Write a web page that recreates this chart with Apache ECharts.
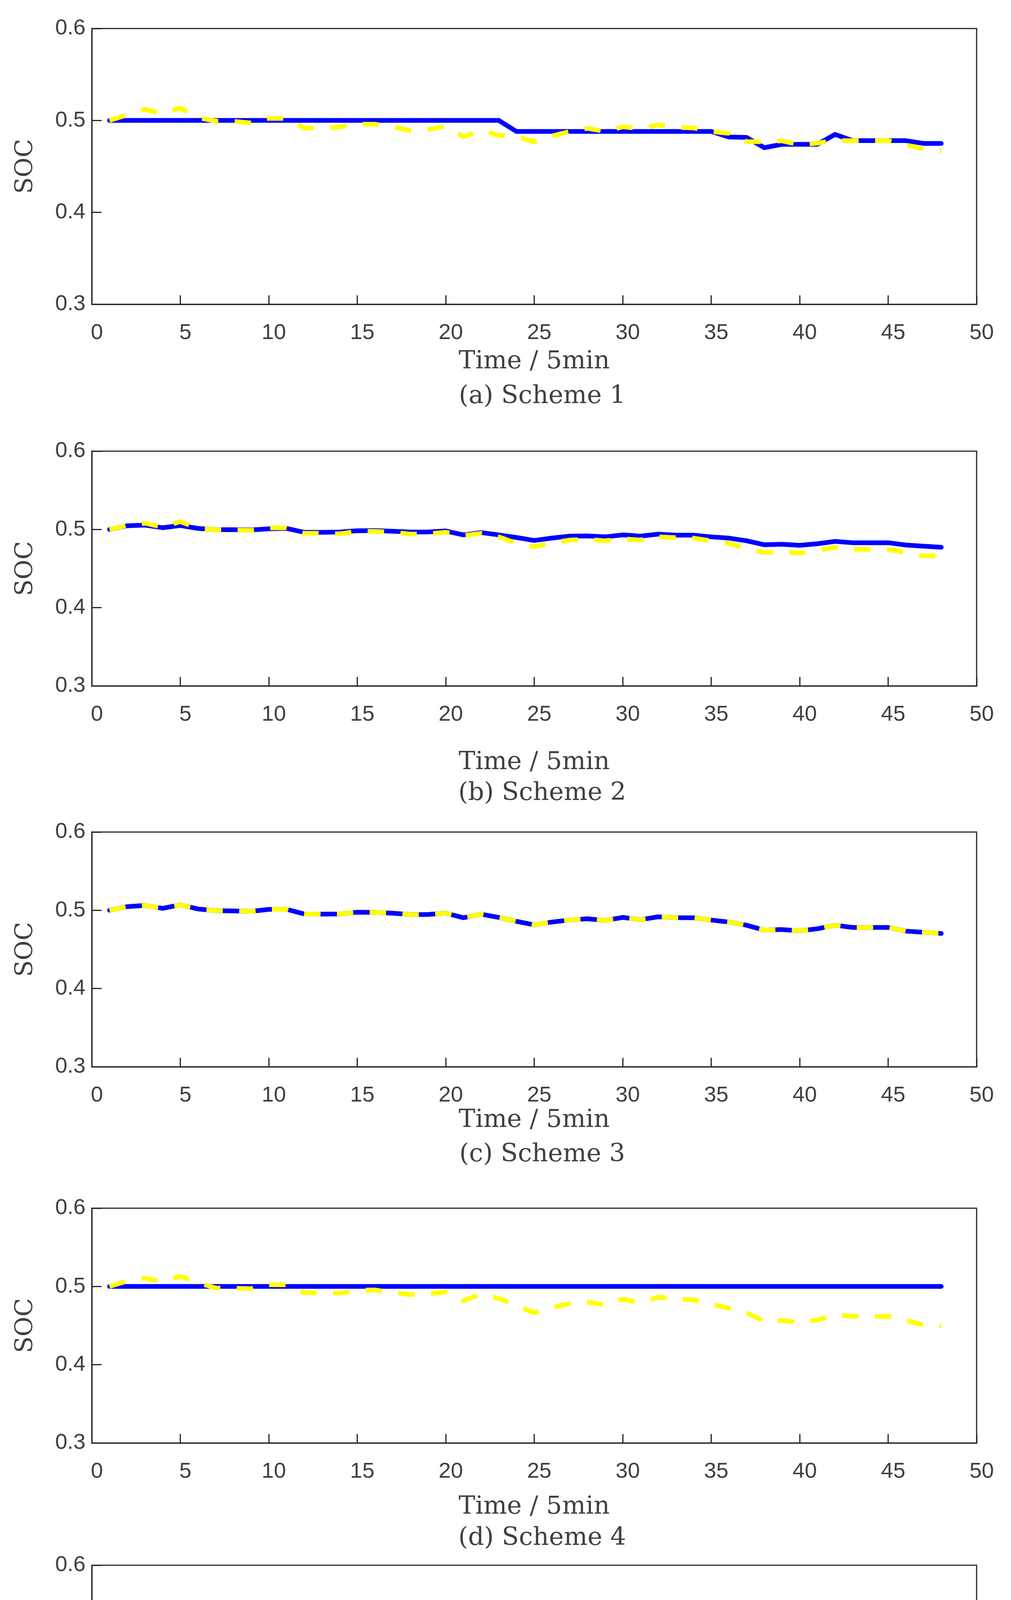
<!DOCTYPE html>
<html>
<head>
<meta charset="utf-8">
<title>SOC of Battery 1 and Battery 2 under five schemes</title>
<script src="https://cdn.jsdelivr.net/npm/echarts@6/dist/echarts.min.js"></script>
<style>
  html, body { margin: 0; padding: 0; background: #ffffff; }
  #soc-chart { width: 2588px; height: 5110px; }
</style>
</head>
<body>
<div id="soc-chart"></div>
<script>
"use strict";

// time steps (1 step = 5 min)
const steps = [
    1, 2, 3, 4, 5, 6, 7, 8, 9, 10,
    11, 12, 13, 14, 15, 16, 17, 18, 19, 20,
    21, 22, 23, 24, 25, 26, 27, 28, 29, 30,
    31, 32, 33, 34, 35, 36, 37, 38, 39, 40,
    41, 42, 43, 44, 45, 46, 47, 48
];

// Scheme 1
const scheme1Battery1 = [
    0.5, 0.5, 0.5, 0.5, 0.5, 0.5, 0.5, 0.5, 0.5, 0.5,
    0.5, 0.5, 0.5, 0.5, 0.5, 0.5, 0.5, 0.5, 0.5, 0.5,
    0.5, 0.5, 0.5, 0.488, 0.488, 0.488, 0.488, 0.488, 0.488, 0.488,
    0.488, 0.488, 0.488, 0.488, 0.488, 0.482, 0.4815, 0.4704, 0.474, 0.474,
    0.474, 0.4848, 0.478, 0.478, 0.478, 0.478, 0.475, 0.475
];
const scheme1Battery2 = [
    0.5, 0.506, 0.5122, 0.5072, 0.5136, 0.503, 0.4994, 0.499, 0.4973, 0.5023,
    0.5023, 0.4919, 0.4915, 0.493, 0.4959, 0.4959, 0.4933, 0.4888, 0.490, 0.4938,
    0.4824, 0.4888, 0.4839, 0.4824, 0.4768, 0.4831, 0.488, 0.4914, 0.4881, 0.4931,
    0.491, 0.4952, 0.4925, 0.4919, 0.488, 0.486, 0.477, 0.4768, 0.4778, 0.4735,
    0.4753, 0.4782, 0.4779, 0.4779, 0.478, 0.4732, 0.4693, 0.467
];

// Scheme 2
const scheme2Battery1 = [
    0.5, 0.5047, 0.5055, 0.5022, 0.505, 0.5013, 0.4997, 0.4997, 0.4993, 0.5008,
    0.5013, 0.4963, 0.4963, 0.4967, 0.4983, 0.4985, 0.4977, 0.4967, 0.4968, 0.498,
    0.493, 0.496, 0.493, 0.4897, 0.4859, 0.4889, 0.4914, 0.4917, 0.4905, 0.493,
    0.4914, 0.494, 0.4927, 0.4927, 0.4905, 0.4889, 0.4855, 0.4804, 0.4811, 0.4797,
    0.4817, 0.4847, 0.483, 0.483, 0.483, 0.4801, 0.4786, 0.4772
];
const scheme2Battery2 = [
    0.5, 0.505, 0.508, 0.503, 0.51, 0.5013, 0.4997, 0.4993, 0.4988, 0.502,
    0.502, 0.495, 0.495, 0.4943, 0.4975, 0.4975, 0.4965, 0.4939, 0.4943, 0.4963,
    0.4922, 0.495, 0.4905, 0.4822, 0.478, 0.483, 0.4864, 0.4872, 0.4855, 0.488,
    0.4864, 0.4905, 0.4894, 0.4889, 0.4855, 0.4822, 0.4751, 0.4706, 0.4714, 0.4697,
    0.473, 0.4772, 0.4747, 0.4744, 0.4744, 0.4706, 0.4664, 0.4661
];

// Scheme 3 (both batteries follow the same curve)
const scheme3Battery1 = [
    0.5, 0.5047, 0.5061, 0.5025, 0.507, 0.5017, 0.4995, 0.4992, 0.4987, 0.5012,
    0.5013, 0.4953, 0.495, 0.4953, 0.4975, 0.4973, 0.4963, 0.4945, 0.4947, 0.4963,
    0.4905, 0.495, 0.4909, 0.4859, 0.4814, 0.485, 0.4875, 0.4892, 0.487, 0.4909,
    0.488, 0.4917, 0.4905, 0.4904, 0.4875, 0.485, 0.4809, 0.4746, 0.4754, 0.4737,
    0.4764, 0.4809, 0.4781, 0.4781, 0.4781, 0.4734, 0.4718, 0.4704
];
const scheme3Battery2 = [
    0.5, 0.5047, 0.5061, 0.5025, 0.507, 0.5017, 0.4995, 0.4992, 0.4987, 0.5012,
    0.5013, 0.4953, 0.495, 0.4953, 0.4975, 0.4973, 0.4963, 0.4945, 0.4947, 0.4963,
    0.4905, 0.495, 0.4909, 0.4859, 0.4814, 0.485, 0.4875, 0.4892, 0.487, 0.4909,
    0.488, 0.4917, 0.4905, 0.4904, 0.4875, 0.485, 0.4809, 0.4746, 0.4754, 0.4737,
    0.4764, 0.4809, 0.4781, 0.4781, 0.4781, 0.4734, 0.4718, 0.4704
];

// Scheme 4
const scheme4Battery1 = [
    0.5, 0.5, 0.5, 0.5, 0.5, 0.5, 0.5, 0.5, 0.5, 0.5,
    0.5, 0.5, 0.5, 0.5, 0.5, 0.5, 0.5, 0.5, 0.5, 0.5,
    0.5, 0.5, 0.5, 0.5, 0.5, 0.5, 0.5, 0.5, 0.5, 0.5,
    0.5, 0.5, 0.5, 0.5, 0.5, 0.5, 0.5, 0.5, 0.5, 0.5,
    0.5, 0.5, 0.5, 0.5, 0.5, 0.5, 0.5, 0.5
];
const scheme4Battery2 = [
    0.5, 0.507, 0.5105, 0.5063, 0.513, 0.5047, 0.498, 0.4977, 0.4972, 0.5022,
    0.5022, 0.4922, 0.4914, 0.4914, 0.495, 0.4955, 0.4922, 0.4897, 0.4905, 0.493,
    0.4817, 0.4905, 0.4847, 0.4756, 0.4664, 0.473, 0.4781, 0.48, 0.4764, 0.4839,
    0.4789, 0.4864, 0.4839, 0.483, 0.4772, 0.4723, 0.4664, 0.4555, 0.4565, 0.454,
    0.4572, 0.4639, 0.4618, 0.4615, 0.4618, 0.4565, 0.4507, 0.449
];

// Scheme 5
const scheme5Battery1 = [
    0.5, 0.5097, 0.5097, 0.5013, 0.5113, 0.4993, 0.4992, 0.4988, 0.4972, 0.503,
    0.503, 0.4899, 0.4899, 0.4899, 0.496, 0.4963, 0.4955, 0.4914, 0.493, 0.4963,
    0.4827, 0.4939, 0.493, 0.4816, 0.4816, 0.4847, 0.488, 0.4905, 0.4855, 0.4939,
    0.4889, 0.4967, 0.4924, 0.4924, 0.4872, 0.4844, 0.4726, 0.4726, 0.476, 0.4706,
    0.4779, 0.4779, 0.4779, 0.4779, 0.4779, 0.4779, 0.4751, 0.4726
];
const scheme5Battery2 = [
    0.5, 0.5025, 0.5042, 0.5042, 0.5042, 0.501, 0.4993, 0.4993, 0.4993, 0.4997,
    0.4997, 0.4997, 0.4995, 0.4988, 0.4988, 0.4993, 0.4955, 0.4955, 0.4955, 0.4955,
    0.4955, 0.495, 0.4889, 0.4867, 0.479, 0.4864, 0.488, 0.488, 0.488, 0.488,
    0.488, 0.488, 0.488, 0.488, 0.488, 0.484, 0.4817, 0.4756, 0.475, 0.475,
    0.475, 0.4826, 0.478, 0.478, 0.478, 0.4734, 0.4696, 0.4696
];

const captions = ['(a) Scheme 1', '(b) Scheme 2', '(c) Scheme 3', '(d) Scheme 4', '(e) Scheme 5'];
const battery1Data = [scheme1Battery1, scheme2Battery1, scheme3Battery1, scheme4Battery1, scheme5Battery1];
const battery2Data = [scheme1Battery2, scheme2Battery2, scheme3Battery2, scheme4Battery2, scheme5Battery2];

// panel placement in px (top of plot box, plot height, gap of "Time / 5min", caption centre)
const panels = [
    { top: 73,   height: 706, nameGap: 115, captionY: 1015 },
    { top: 1155, height: 601, nameGap: 164, captionY: 2031 },
    { top: 2130, height: 601, nameGap: 105, captionY: 2956 },
    { top: 3093, height: 601, nameGap: 132, captionY: 3938 },
    { top: 4007, height: 601, nameGap: 153, captionY: 4891 }
];

const axisColor = '#262626';
const labelColor = '#404040';
const serif = '"DejaVu Serif", "Liberation Serif", serif';
const sans = '"Liberation Sans", Arial, sans-serif';

var myChart = echarts.init(document.getElementById('soc-chart'), null, { renderer: 'canvas' });

var grids = [], xAxes = [], yAxes = [], series = [], texts = [];

panels.forEach((p, i) => {
    grids.push({
        left: 235, width: 2265, top: p.top, height: p.height,
        show: true, borderColor: axisColor, borderWidth: 3, backgroundColor: 'transparent'
    });

    xAxes.push({
        gridIndex: i,
        type: 'value',
        min: 0, max: 50, interval: 5,
        name: 'Time / 5min',
        nameLocation: 'middle',
        nameGap: p.nameGap,
        nameTextStyle: { fontFamily: serif, fontSize: 64, color: labelColor },
        axisLine: { show: true, onZero: false, lineStyle: { color: axisColor, width: 3 } },
        axisTick: { show: true, inside: true, length: 23, lineStyle: { color: axisColor, width: 3 } },
        axisLabel: {
            margin: 46, fontFamily: sans, fontSize: 56, color: labelColor,
            padding: [0, 0, 0, 26]
        },
        splitLine: { show: false }
    });

    yAxes.push({
        gridIndex: i,
        type: 'value',
        min: 0.3, max: 0.6, interval: 0.1,
        name: 'SOC',
        nameLocation: 'middle',
        nameGap: 138,
        nameTextStyle: { fontFamily: serif, fontSize: 62, color: labelColor },
        axisLine: { show: true, onZero: false, lineStyle: { color: axisColor, width: 3 } },
        axisTick: { show: true, inside: true, length: 25, lineStyle: { color: axisColor, width: 3 } },
        axisLabel: {
            margin: 16, fontFamily: sans, fontSize: 56, color: labelColor,
            padding: [26, 0, 0, 0],
            formatter: v => v.toFixed(1)
        },
        splitLine: { show: false }
    });

    series.push({
        name: 'Battery 1',
        type: 'line',
        xAxisIndex: i, yAxisIndex: i,
        data: steps.map((t, k) => [t, battery1Data[i][k]]),
        symbol: 'none',
        itemStyle: { color: '#0000ff' },
        lineStyle: { color: '#0000ff', width: 12, cap: 'round', join: 'round' },
        z: 2
    });

    series.push({
        name: 'Battery2',
        type: 'line',
        xAxisIndex: i, yAxisIndex: i,
        data: steps.map((t, k) => [t, battery2Data[i][k]]),
        symbol: 'none',
        itemStyle: { color: '#ffff00' },
        lineStyle: { color: '#ffff00', width: 12, type: [42, 42], cap: 'butt', join: 'round' },
        z: 3
    });

    texts.push({
        type: 'text',
        x: 1388, y: p.captionY,
        style: {
            text: captions[i],
            fontFamily: serif, fontSize: 64,
            fill: labelColor,
            align: 'center', verticalAlign: 'middle'
        }
    });
});

var option = {
    backgroundColor: '#ffffff',
    animation: false,
    grid: grids,
    xAxis: xAxes,
    yAxis: yAxes,
    series: series,
    graphic: texts,
    legend: {
        data: ['Battery 1', 'Battery2'],
        left: 816, top: 4982,
        orient: 'horizontal',
        itemWidth: 220, itemHeight: 40, itemGap: 45,
        padding: [12, 22, 12, 13],
        borderColor: '#000000', borderWidth: 3,
        selectedMode: false,
        // only the line sample, no point marker
        itemStyle: { opacity: 0 },
        lineStyle: { width: 16 },
        textStyle: { fontFamily: serif, fontSize: 64, color: '#000000', padding: [0, 0, 0, 33] }
    }
};

myChart.setOption(option);
</script>
</body>
</html>
